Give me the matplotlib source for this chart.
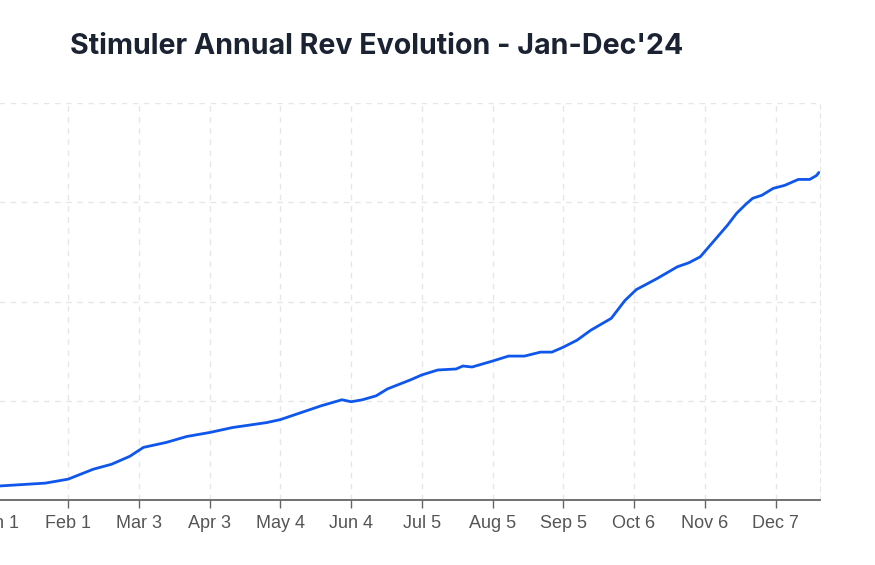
import numpy as np
import pandas as pd
import matplotlib
matplotlib.use("Agg")
import matplotlib.pyplot as plt
import matplotlib.dates as mdates

# revenue evolution (arbitrary units)
dates = ["2024-01-01", "2024-01-22", "2024-02-01", "2024-02-12", "2024-02-20",
         "2024-02-28", "2024-03-05", "2024-03-15", "2024-03-24", "2024-04-03",
         "2024-04-13", "2024-04-28", "2024-05-04", "2024-05-13", "2024-05-22",
         "2024-05-31", "2024-06-04", "2024-06-09", "2024-06-15", "2024-06-20",
         "2024-06-30", "2024-07-05", "2024-07-12", "2024-07-20", "2024-07-23",
         "2024-07-27", "2024-08-05", "2024-08-12", "2024-08-19", "2024-08-26",
         "2024-08-31", "2024-09-05", "2024-09-11", "2024-09-17", "2024-09-26",
         "2024-10-02", "2024-10-07", "2024-10-16", "2024-10-25", "2024-10-30",
         "2024-11-04", "2024-11-10", "2024-11-16", "2024-11-20", "2024-11-24",
         "2024-11-27", "2024-12-01", "2024-12-06", "2024-12-11", "2024-12-17",
         "2024-12-22", "2024-12-25", "2024-12-26"]
revenue = [0.14, 0.17, 0.21, 0.31, 0.36,
           0.44, 0.53, 0.58, 0.64, 0.68,
           0.73, 0.78, 0.81, 0.88, 0.95,
           1.01, 0.99, 1.01, 1.05, 1.12,
           1.21, 1.26, 1.31, 1.32, 1.35,
           1.34, 1.40, 1.45, 1.45, 1.49,
           1.49, 1.54, 1.61, 1.71, 1.83,
           2.01, 2.12, 2.23, 2.35, 2.39,
           2.45, 2.61, 2.77, 2.89, 2.98,
           3.04, 3.07, 3.14, 3.17, 3.23,
           3.23, 3.27, 3.30]
tick_dates = ["2024-01-01", "2024-02-01", "2024-03-03", "2024-04-03", "2024-05-04",
              "2024-06-04", "2024-07-05", "2024-08-05", "2024-09-05", "2024-10-06",
              "2024-11-06", "2024-12-07"]
yticks = [0, 1, 2, 3, 4]

x = pd.to_datetime(dates)
ticks = pd.to_datetime(tick_dates)

fig = plt.figure(figsize=(8.75, 5.65), dpi=100)
ax = fig.add_axes([-2.6 / 875, 65 / 565, 822.6 / 875, 397 / 565])

ax.plot(x, revenue, color="#0f56ec", lw=2.0, solid_capstyle="round",
        solid_joinstyle="round")

ax.set_xlim(pd.Timestamp("2024-01-01"), pd.Timestamp("2024-12-26 12:00"))
ax.set_ylim(0, 4)
ax.set_xticks(ticks)
ax.xaxis.set_major_formatter(mdates.DateFormatter("%b %-d"))
ax.set_yticks(yticks)
ax.tick_params(axis="y", left=False, labelleft=False)
ax.tick_params(axis="x", length=6, width=1, color="#666666", labelcolor="#555555",
               labelsize=13, pad=5)
for lab in ax.get_xticklabels():
    lab.set_family(["Liberation Sans", "DejaVu Sans"])

ax.grid(True, color="#e6e6e6", lw=1, linestyle=(0, (4, 4)))
for s in ["top", "left"]:
    ax.spines[s].set_visible(False)
ax.spines["right"].set_color("#e6e6e6")
ax.spines["right"].set_linestyle((0, (4, 4)))
ax.spines["bottom"].set_color("#666666")
ax.spines["bottom"].set_linewidth(1.3)

fig.text(70 / 875, 1 - 46 / 565, "Stimuler Annual Rev Evolution - Jan-Dec'24",
         fontsize=20.6, fontweight="bold", color="#1b2333", family="Inter",
         ha="left", va="center")

fig.savefig("out.png", dpi=100)
